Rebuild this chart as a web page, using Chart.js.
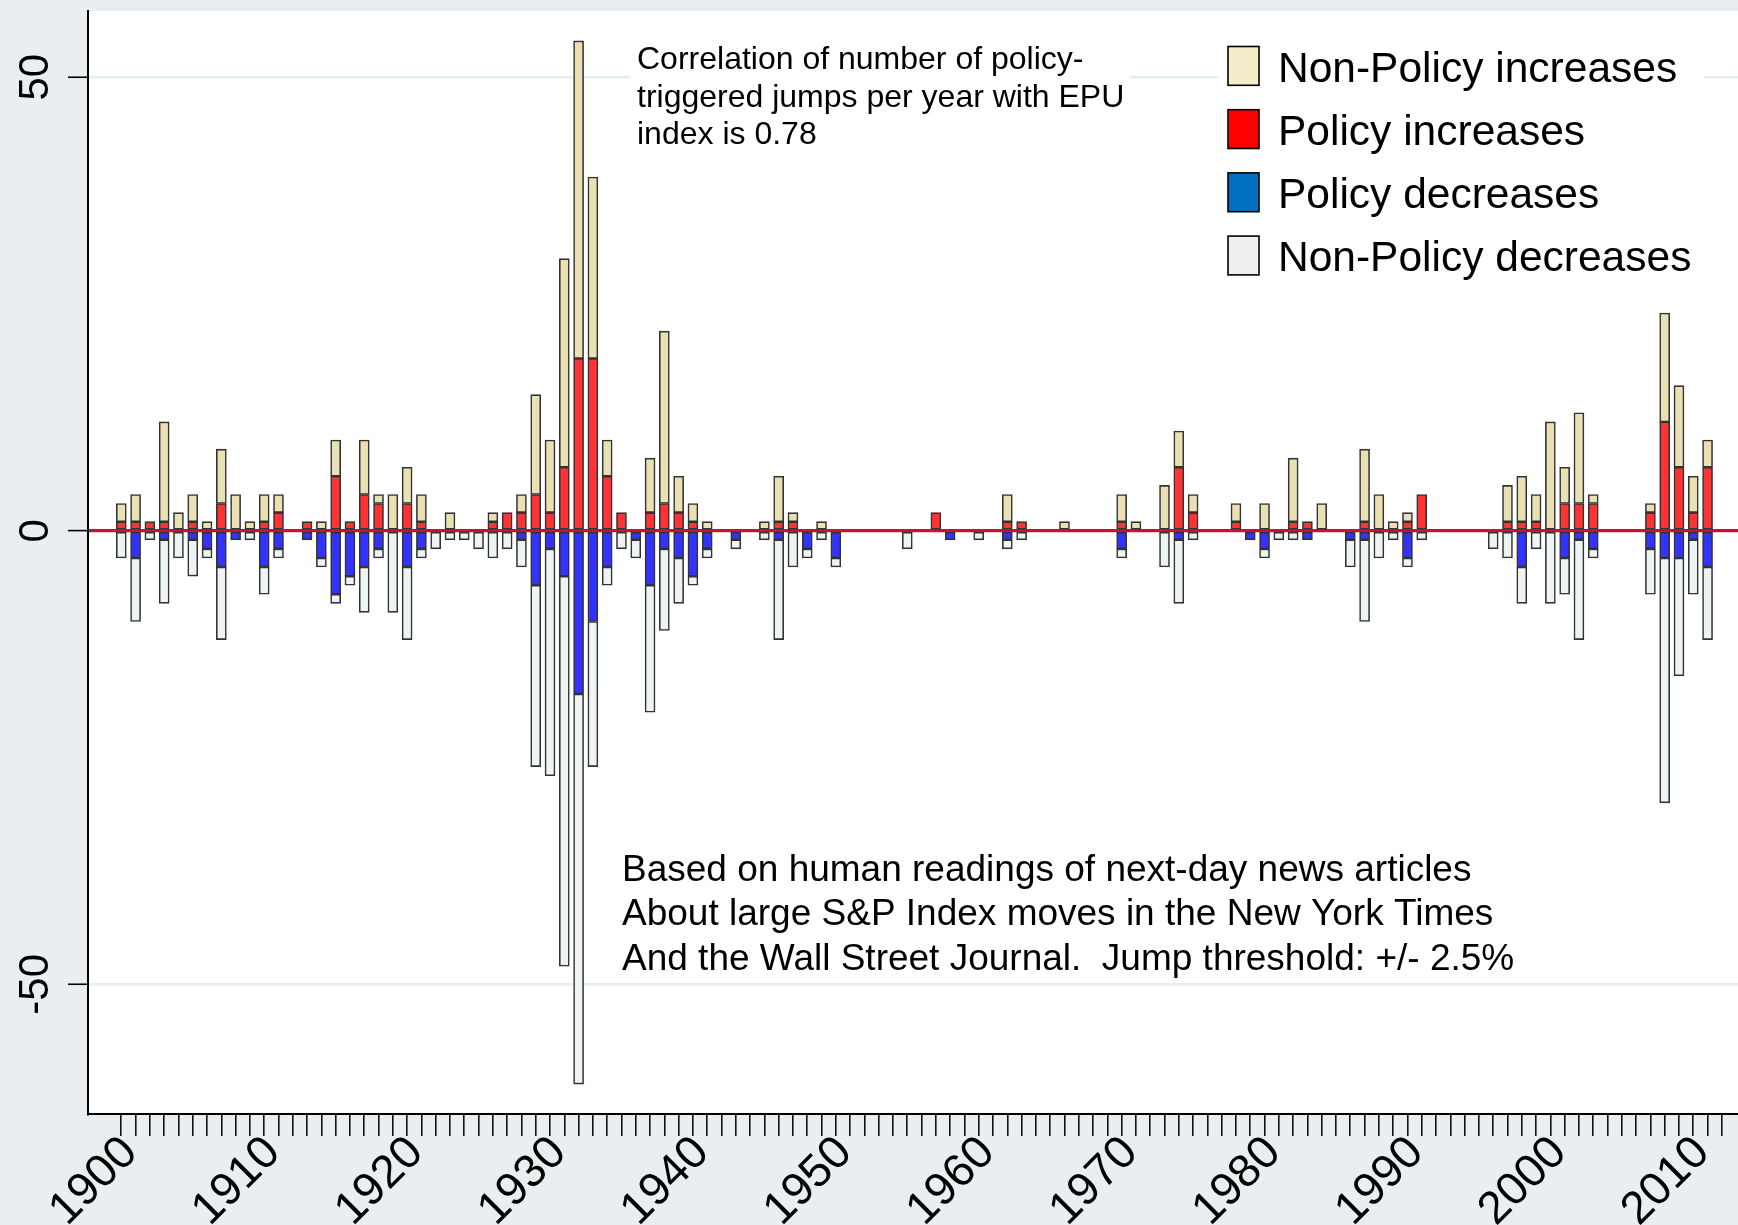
<!DOCTYPE html>
<html>
<head>
<meta charset="utf-8">
<title>Policy and non-policy stock market jumps</title>
<script src="https://cdn.jsdelivr.net/npm/chart.js@4.4.1/dist/chart.umd.min.js"></script>
<style>
  html, body { margin: 0; padding: 0; background: #e9eff1; overflow: hidden; }
  #wrap { width: 1738px; height: 1225px; }
</style>
</head>
<body>
<div id="wrap"><canvas id="jumps" width="1738" height="1225"></canvas></div>
<script>
// one entry per year, 1900..2011
var years = [
  1900, 1901, 1902, 1903, 1904, 1905, 1906, 1907, 1908, 1909,
  1910, 1911, 1912, 1913, 1914, 1915, 1916, 1917, 1918, 1919,
  1920, 1921, 1922, 1923, 1924, 1925, 1926, 1927, 1928, 1929,
  1930, 1931, 1932, 1933, 1934, 1935, 1936, 1937, 1938, 1939,
  1940, 1941, 1942, 1943, 1944, 1945, 1946, 1947, 1948, 1949,
  1950, 1951, 1952, 1953, 1954, 1955, 1956, 1957, 1958, 1959,
  1960, 1961, 1962, 1963, 1964, 1965, 1966, 1967, 1968, 1969,
  1970, 1971, 1972, 1973, 1974, 1975, 1976, 1977, 1978, 1979,
  1980, 1981, 1982, 1983, 1984, 1985, 1986, 1987, 1988, 1989,
  1990, 1991, 1992, 1993, 1994, 1995, 1996, 1997, 1998, 1999,
  2000, 2001, 2002, 2003, 2004, 2005, 2006, 2007, 2008, 2009,
  2010, 2011
];

// counts of jumps per year
var policyUp = [
  1, 1, 1, 1, 0, 1, 0, 3, 0, 0,
  1, 2, 0, 1, 0, 6, 1, 4, 3, 0,
  3, 1, 0, 0, 0, 0, 1, 2, 2, 4,
  2, 7, 19, 19, 6, 2, 0, 2, 3, 2,
  1, 0, 0, 0, 0, 0, 1, 1, 0, 0,
  0, 0, 0, 0, 0, 0, 0, 2, 0, 0,
  0, 0, 1, 1, 0, 0, 0, 0, 0, 0,
  1, 0, 0, 0, 7, 2, 0, 0, 1, 0,
  0, 0, 1, 1, 0, 0, 0, 1, 0, 0,
  1, 4, 0, 0, 0, 0, 0, 1, 1, 1,
  0, 3, 3, 3, 0, 0, 0, 2, 12, 7,
  2, 7
];
var nonPolicyUp = [
  2, 3, 0, 11, 2, 3, 1, 6, 4, 1,
  3, 2, 0, 0, 1, 4, 0, 6, 1, 4,
  4, 3, 0, 2, 0, 0, 1, 0, 2, 11,
  8, 23, 35, 20, 4, 0, 0, 6, 19, 4,
  2, 1, 0, 0, 0, 1, 5, 1, 0, 1,
  0, 0, 0, 0, 0, 0, 0, 0, 0, 0,
  0, 0, 3, 0, 0, 0, 1, 0, 0, 0,
  3, 1, 0, 5, 4, 2, 0, 0, 2, 0,
  3, 0, 7, 0, 3, 0, 0, 8, 4, 1,
  1, 0, 0, 0, 0, 0, 0, 4, 5, 3,
  12, 4, 10, 1, 0, 0, 0, 1, 12, 9,
  4, 3
];
var policyDown = [
  0, 3, 0, 1, 0, 1, 2, 4, 1, 0,
  4, 2, 0, 1, 3, 7, 5, 4, 2, 0,
  4, 2, 0, 0, 0, 0, 0, 0, 1, 6,
  2, 5, 18, 10, 4, 0, 1, 6, 2, 3,
  5, 2, 0, 1, 0, 0, 1, 0, 2, 0,
  3, 0, 0, 0, 0, 0, 0, 0, 1, 0,
  0, 0, 1, 0, 0, 0, 0, 0, 0, 0,
  2, 0, 0, 0, 1, 0, 0, 0, 0, 1,
  2, 0, 0, 1, 0, 0, 1, 1, 0, 0,
  3, 0, 0, 0, 0, 0, 0, 0, 4, 0,
  0, 3, 1, 2, 0, 0, 0, 2, 3, 3,
  1, 4
];
var nonPolicyDown = [
  3, 7, 1, 7, 3, 4, 1, 8, 0, 1,
  3, 1, 0, 0, 1, 1, 1, 5, 1, 9,
  8, 1, 2, 1, 1, 2, 3, 2, 3, 20,
  25, 43, 43, 16, 2, 2, 2, 14, 9, 5,
  1, 1, 0, 1, 0, 1, 11, 4, 1, 1,
  1, 0, 0, 0, 0, 2, 0, 0, 0, 0,
  1, 0, 1, 1, 0, 0, 0, 0, 0, 0,
  1, 0, 0, 4, 7, 1, 0, 0, 0, 0,
  1, 1, 1, 0, 0, 0, 3, 9, 3, 1,
  1, 1, 0, 0, 0, 0, 2, 3, 4, 2,
  8, 4, 11, 1, 0, 0, 0, 5, 27, 13,
  6, 8
];

var decadeLabels = [1900, 1910, 1920, 1930, 1940, 1950, 1960, 1970, 1980, 1990, 2000, 2010];
var yTicks = [-50, 0, 50];

var noteTop = [
  'Correlation of number of policy-',
  'triggered jumps per year with EPU',
  'index is 0.78'
];
var noteBottom = [
  'Based on human readings of next-day news articles',
  'About large S&P Index moves in the New York Times',
  'And the Wall Street Journal.  Jump threshold: +/- 2.5%'
];

var legendNames = ['Non-Policy increases', 'Policy increases', 'Policy decreases', 'Non-Policy decreases'];
var legendSwatches = ['#f5ecc9', '#ff0000', '#0070c0', '#efefef'];

var FONT = '"Liberation Sans", Arial, Helvetica, sans-serif';

// zero years are left out so no empty bar outlines get drawn
function toPoints(counts, sign) {
  var pts = [];
  for (var i = 0; i < counts.length; i++) {
    if (counts[i] !== 0) pts.push({ x: years[i], y: sign * counts[i] });
  }
  return pts;
}

var tickYears = years.concat([2012]);

var decorations = {
  id: 'decorations',
  beforeDraw: function (chart) {
    var ctx = chart.ctx, a = chart.chartArea;
    ctx.save();
    ctx.fillStyle = '#ffffff';
    ctx.fillRect(a.left, a.top, a.right - a.left, a.bottom - a.top);
    ctx.restore();
  },
  beforeDatasetsDraw: function (chart) {
    // white boxes behind the text blocks
    var ctx = chart.ctx;
    ctx.save();
    ctx.fillStyle = '#ffffff';
    ctx.fillRect(630, 30, 500, 125);
    ctx.fillRect(1218, 36, 486, 250);
    ctx.restore();
  },
  afterDraw: function (chart) {
    var ctx = chart.ctx;
    var yScale = chart.scales.y;
    var i;
    ctx.save();
    ctx.fillStyle = '#000000';

    // y tick labels, turned to read upwards
    ctx.font = '42px ' + FONT;
    ctx.textAlign = 'center';
    ctx.textBaseline = 'middle';
    yTicks.forEach(function (v) {
      var py = yScale.getPixelForValue(v);
      ctx.save();
      ctx.translate(34, py);
      ctx.rotate(-Math.PI / 2);
      ctx.fillText(String(v), 0, 2);
      ctx.restore();
    });

    ctx.textAlign = 'left';
    ctx.textBaseline = 'alphabetic';
    ctx.font = '32px ' + FONT;
    for (i = 0; i < noteTop.length; i++) {
      ctx.fillText(noteTop[i], 637, 69 + i * 37.7);
    }
    ctx.font = '37px ' + FONT;
    for (i = 0; i < noteBottom.length; i++) {
      ctx.fillText(noteBottom[i], 622, 881 + i * 44.3);
    }

    // legend
    ctx.font = '42.5px ' + FONT;
    ctx.lineWidth = 1.6;
    ctx.strokeStyle = '#000000';
    for (i = 0; i < legendNames.length; i++) {
      var top = 46.5 + i * 63.2;
      ctx.fillStyle = legendSwatches[i];
      ctx.fillRect(1228, top, 31, 38.8);
      ctx.strokeRect(1228, top, 31, 38.8);
      ctx.fillStyle = '#000000';
      ctx.fillText(legendNames[i], 1278, top + 35);
    }
    ctx.restore();
  }
};

new Chart(document.getElementById('jumps'), {
  type: 'bar',
  data: {
    datasets: [
      { label: 'Policy increases', data: toPoints(policyUp, 1), backgroundColor: '#ff3333' },
      { label: 'Non-Policy increases', data: toPoints(nonPolicyUp, 1), backgroundColor: '#e9e0b4' },
      { label: 'Policy decreases', data: toPoints(policyDown, -1), backgroundColor: '#3333ff' },
      { label: 'Non-Policy decreases', data: toPoints(nonPolicyDown, -1), backgroundColor: '#edf4f2' }
    ]
  },
  options: {
    responsive: false,
    animation: false,
    layout: { padding: { top: 11, right: 0, bottom: 0, left: 0 } },
    datasets: {
      bar: {
        barThickness: 10,
        borderWidth: 1.6,
        borderColor: '#333333',
        borderSkipped: false
      }
    },
    plugins: {
      legend: { display: false },
      tooltip: { enabled: false }
    },
    scales: {
      x: {
        type: 'linear',
        stacked: true,
        offset: false,
        min: 1897.67,
        max: 2013.13,
        afterBuildTicks: function (scale) {
          scale.ticks = tickYears.map(function (v) { return { value: v }; });
        },
        afterFit: function (scale) {
          scale.height = 111;
          scale.paddingLeft = 0;
          scale.paddingRight = 0;
        },
        grid: {
          drawOnChartArea: false,
          drawTicks: true,
          tickLength: 22,
          color: '#111111',
          lineWidth: 1.6,
          offset: false
        },
        border: { display: true, color: '#000000', width: 2 },
        ticks: {
          autoSkip: false,
          minRotation: 45,
          maxRotation: 45,
          padding: -10,
          labelOffset: 9,
          color: '#000000',
          font: { family: FONT, size: 46 },
          callback: function (v) {
            return decadeLabels.indexOf(v) >= 0 ? String(v) : '';
          }
        }
      },
      y: {
        stacked: true,
        min: -64.3,
        max: 57.3,
        afterBuildTicks: function (scale) {
          scale.ticks = yTicks.map(function (v) { return { value: v }; });
        },
        afterFit: function (scale) {
          scale.width = 88;
          scale.paddingTop = 0;
          scale.paddingBottom = 0;
        },
        grid: {
          drawTicks: true,
          tickLength: 20,
          tickColor: '#000000',
          tickWidth: 1.6,
          color: function (c) { return c.tick && c.tick.value === 0 ? '#c8103a' : '#e4edef'; },
          lineWidth: function (c) { return c.tick && c.tick.value === 0 ? 3.2 : 2.5; }
        },
        border: { display: true, color: '#000000', width: 2 },
        ticks: { display: false }
      }
    }
  },
  plugins: [decorations]
});
</script>
</body>
</html>
